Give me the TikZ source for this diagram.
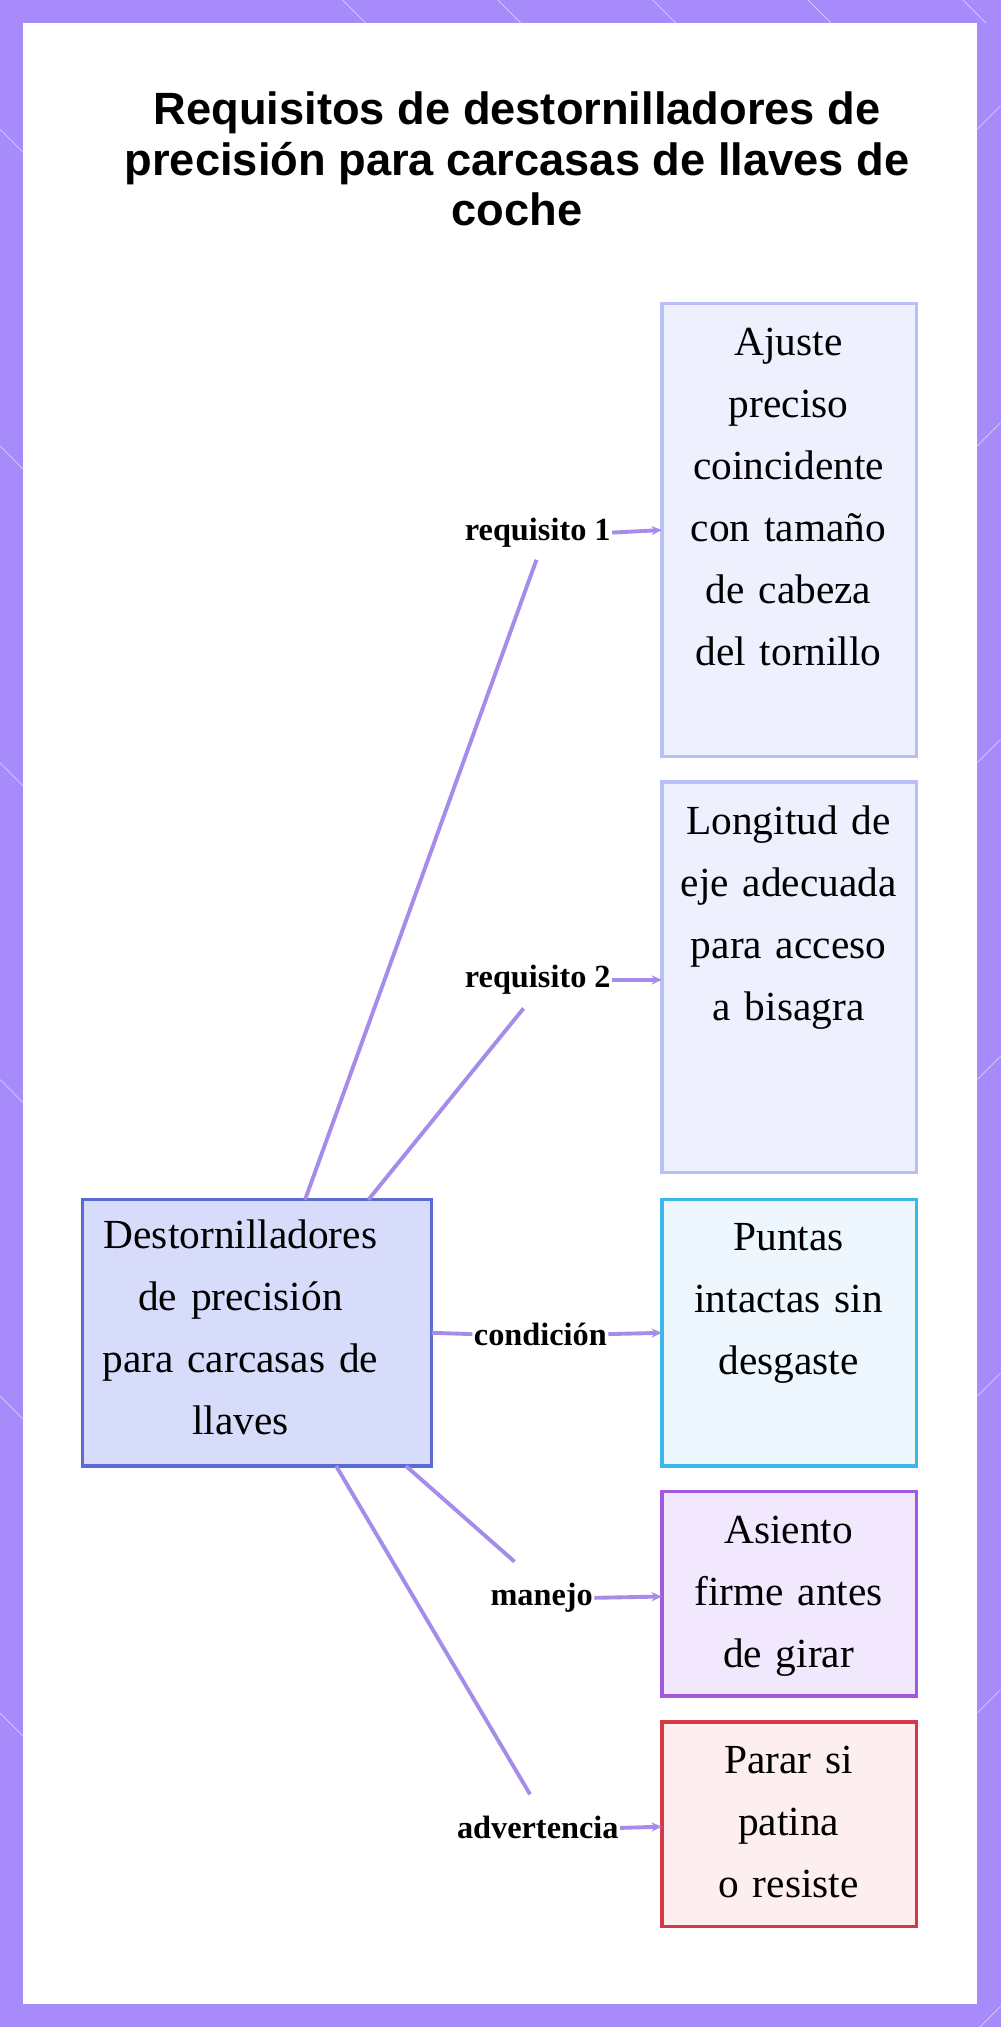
\documentclass[tikz,border=0pt]{standalone}
\usepackage{fontspec}
\setmainfont{Liberation Serif}
\newfontfamily\titlefont{Liberation Sans}
\usetikzlibrary{positioning,arrows.meta}
\definecolor{frame}{HTML}{A78BFA}
\definecolor{edge}{HTML}{A58CEB}
\tikzset{
  box/.style={draw, line width=2.5pt, minimum width=197pt, inner sep=0pt},
  boxtext/.style={text width=200pt, align=center, font=\fontsize{32}{48}\selectfont, anchor=north},
  lbl/.style={font=\bfseries\fontsize{25}{28}\selectfont, inner sep=1pt},
  conn/.style={edge, line width=3pt},
  arr/.style={edge, line width=3pt, -{Stealth[length=8pt,width=7pt]}}
}
\begin{document}
\begin{tikzpicture}[x=1pt, y=-1pt]
\useasboundingbox (0,0) rectangle (774,1568);
%% Rahmen
\fill[frame] (0,0) rectangle (774,1568);
\fill[white] (18,18) rectangle (756,1550);
\foreach \i in {0,1,...,6} {
  \draw[white, opacity=0.7] (265+\i*120,0) -- +(18,18);
  \draw[white, opacity=0.7] (0,100+\i*245) -- +(18,18);
  \draw[white, opacity=0.7] (756,100+\i*245) -- +(18,-18);
}
%% Titel
\node[font=\titlefont\bfseries\fontsize{35}{39}\selectfont, align=center] (title) at (400,123)
  {Requisitos de destornilladores de\\precisión para carcasas de llaves de\\coche};

%% Knoten
\filldraw[box, draw={rgb,255:red,91;green,107;blue,214}, fill={rgb,255:red,216;green,220;blue,251}] (64,928) rectangle (334,1134);
\node[boxtext, text width=270pt] (main) at (186,940) {Destornilladores\\de precisión\\para carcasas de\\llaves};
\coordinate (mainN1) at (236,928);
\coordinate (mainN2) at (285,928);
\coordinate (mainE) at (334,1031);
\coordinate (mainS1) at (314,1134);
\coordinate (mainS2) at (260,1134);

\filldraw[box, draw={rgb,255:red,184;green,192;blue,245}, fill={rgb,255:red,238;green,240;blue,253}] (512,235) rectangle (709,585);
\node[boxtext] (req1) at (610,250) {Ajuste\\preciso\\coincidente\\con tamaño\\de cabeza\\del tornillo};
\filldraw[box, draw={rgb,255:red,184;green,192;blue,245}, fill={rgb,255:red,238;green,240;blue,253}] (512,605) rectangle (709,907);
\node[boxtext] (req2) at (610,620) {Longitud de\\eje adecuada\\para acceso\\a bisagra};
\filldraw[box, draw={rgb,255:red,59;green,184;blue,232}, fill={rgb,255:red,238;green,247;blue,254}] (512,928) rectangle (709,1134);
\node[boxtext] (cond) at (610,943) {Puntas\\intactas sin\\desgaste};
\filldraw[box, draw={rgb,255:red,162;green,89;blue,224}, fill={rgb,255:red,241;green,232;blue,253}] (512,1154) rectangle (709,1312);
\node[boxtext] (man) at (610,1169) {Asiento\\firme antes\\de girar};
\filldraw[box, draw={rgb,255:red,214;green,56;blue,72}, fill={rgb,255:red,253;green,238;blue,239}] (512,1332) rectangle (709,1490);
\node[boxtext] (adv) at (610,1347) {Parar si\\patina\\o resiste};

%% Beschriftungen
\node[lbl] (l1) at (416,412) {requisito 1};
\node[lbl] (l2) at (416,758) {requisito 2};
\node[lbl] (l3) at (418,1032) {condición};
\node[lbl] (l4) at (419,1236) {manejo};
\node[lbl] (l5) at (416,1414) {advertencia};

%% Verbindungen
\draw[conn] (mainN1) -- (415,433);
\draw[arr] (l1.east) -- (512,410);
\draw[conn] (mainN2) -- (405,780);
\draw[arr] (l2.east) -- (512,758);
\draw[conn] (mainE) -- (l3.west);
\draw[arr] (l3.east) -- (512,1031);
\draw[conn] (mainS1) -- (398,1208);
\draw[arr] (l4.east) -- (512,1235);
\draw[conn] (mainS2) -- (410,1388);
\draw[arr] (l5.east) -- (512,1413);
\end{tikzpicture}
\end{document}
